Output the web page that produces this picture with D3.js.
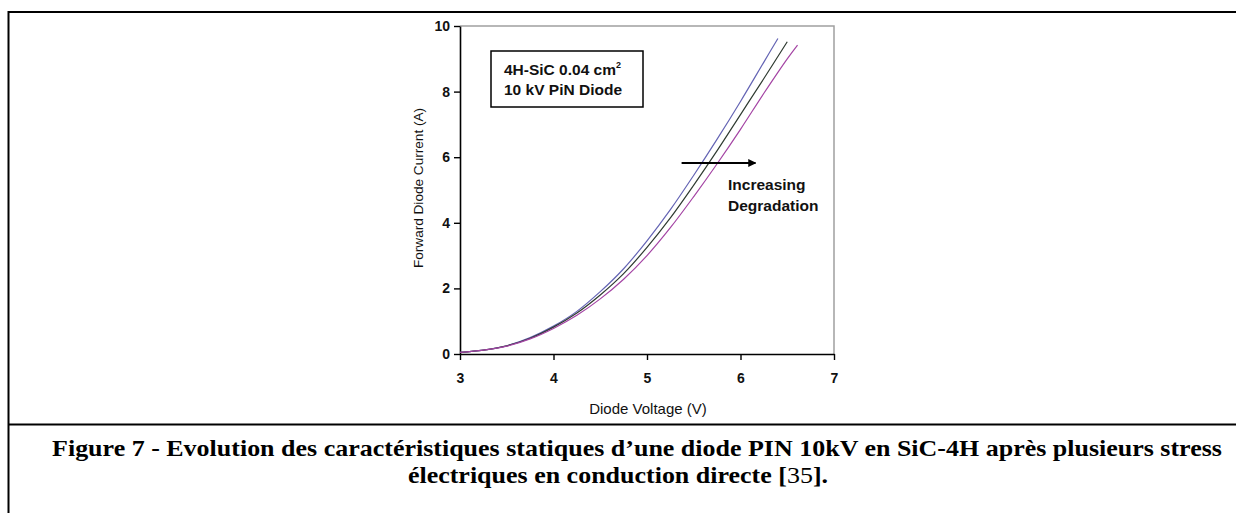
<!DOCTYPE html>
<html>
<head>
<meta charset="utf-8">
<script src="https://cdn.jsdelivr.net/npm/d3@7"></script>
<style>
  body { margin: 0; background: #fff; }
  svg { display: block; }
</style>
</head>
<body>
<svg id="chart" width="1236" height="513"></svg>
<script>
// voltage samples (V) and currents (A)
var voltBlue = [3.0, 3.25, 3.5, 3.75, 4.0, 4.25, 4.5, 4.75, 5.0, 5.25, 5.5, 5.75, 6.0, 6.25, 6.4];
var currBlue = [0.05, 0.12, 0.25, 0.5, 0.85, 1.3, 1.9, 2.6, 3.45, 4.4, 5.45, 6.55, 7.7, 8.9, 9.62];

var voltBlack = [3.0, 3.25, 3.5, 3.75, 4.0, 4.25, 4.5, 4.75, 5.0, 5.25, 5.5, 5.75, 6.0, 6.25, 6.5];
var currBlack = [0.05, 0.12, 0.25, 0.48, 0.82, 1.25, 1.8, 2.45, 3.25, 4.15, 5.15, 6.2, 7.3, 8.4, 9.52];

var voltPurple = [3.0, 3.25, 3.5, 3.75, 4.0, 4.25, 4.5, 4.75, 5.0, 5.25, 5.5, 5.75, 6.0, 6.25, 6.5, 6.61];
var currPurple = [0.05, 0.12, 0.24, 0.46, 0.78, 1.18, 1.68, 2.28, 3.0, 3.85, 4.8, 5.8, 6.85, 7.95, 9.0, 9.42];

var xTicks = [3, 4, 5, 6, 7];
var yTicks = [0, 2, 4, 6, 8, 10];

var curves = [
  { v: voltBlue, i: currBlue, color: '#6464b4' },
  { v: voltBlack, i: currBlack, color: '#2e3a30' },
  { v: voltPurple, i: currPurple, color: '#a444a4' }
];

var svg = d3.select('#chart');
var sans = 'Liberation Sans, Arial, sans-serif';

// page frame (part of the document table)
svg.append('line').attr('x1', 8.5).attr('x2', 1236).attr('y1', 12).attr('y2', 12)
  .style('stroke', '#000').style('stroke-width', 2);
svg.append('line').attr('x1', 8.5).attr('x2', 8.5).attr('y1', 11).attr('y2', 513)
  .style('stroke', '#000').style('stroke-width', 2);
svg.append('line').attr('x1', 8.5).attr('x2', 1236).attr('y1', 424.5).attr('y2', 424.5)
  .style('stroke', '#000').style('stroke-width', 2);

var margin = { top: 26, left: 460 };
var width = 374;
var height = 328;

var g = svg.append('g')
  .attr('transform', `translate(${margin.left}, ${margin.top})`);

var xScale = d3.scaleLinear().domain([3, 7]).range([0, width]);
var yScale = d3.scaleLinear().domain([0, 10]).range([height, 0]);

// grey top/right frame
g.append('path')
  .attr('d', `M0,0H${width}V${height}`)
  .style('fill', 'none')
  .style('stroke', '#a0a0a0')
  .style('stroke-width', 1.5);

var xAxis = d3.axisBottom(xScale).tickValues(xTicks).tickFormat(d3.format('d'))
  .tickSizeInner(6).tickSizeOuter(0).tickPadding(13);
var yAxis = d3.axisLeft(yScale).tickValues(yTicks).tickFormat(d3.format('d'))
  .tickSizeInner(6).tickSizeOuter(0).tickPadding(4);

g.append('g')
  .attr('transform', `translate(0, ${height})`)
  .call(xAxis);
g.append('g').call(yAxis);

g.selectAll('.domain').style('stroke', '#000').style('stroke-width', 1.6);
g.selectAll('.tick line').style('stroke', '#000').style('stroke-width', 1.4);
g.selectAll('.tick text')
  .style('font-family', sans)
  .style('font-weight', 'bold')
  .style('font-size', '14px')
  .style('fill', '#111');

var line = d3.line()
  .x(function (d) { return xScale(d[0]); })
  .y(function (d) { return yScale(d[1]); })
  .curve(d3.curveCatmullRom);

curves.forEach(function (c) {
  g.append('path')
    .datum(d3.zip(c.v, c.i))
    .attr('d', line)
    .style('fill', 'none')
    .style('stroke', c.color)
    .style('stroke-width', 1.2);
});

// axis titles
g.append('text')
  .attr('x', width / 2 + 1)
  .attr('y', height + 60)
  .attr('text-anchor', 'middle')
  .style('font-family', sans)
  .style('font-size', '15px')
  .style('fill', '#111')
  .text('Diode Voltage (V)');

g.append('text')
  .attr('transform', `translate(-37, ${height / 2 - 2}) rotate(-90)`)
  .attr('text-anchor', 'middle')
  .style('font-family', sans)
  .style('font-size', '13.6px')
  .style('fill', '#111')
  .text('Forward Diode Current (A)');

// label box
g.append('rect')
  .attr('x', 31).attr('y', 25).attr('width', 152).attr('height', 56)
  .style('fill', '#fff')
  .style('stroke', '#000')
  .style('stroke-width', 1.5);

var boxText = g.append('text')
  .style('font-family', sans)
  .style('font-weight', 'bold')
  .style('font-size', '15.5px')
  .style('fill', '#111');
var l1 = boxText.append('tspan').attr('x', 44).attr('y', 49).text('4H-SiC 0.04 cm');
l1.append('tspan').attr('dy', -7).style('font-size', '9px').text('2');
boxText.append('tspan').attr('x', 44).attr('y', 69).text('10 kV PiN Diode');

// degradation arrow
svg.append('defs').append('marker')
  .attr('id', 'head')
  .attr('viewBox', '0 0 10 10')
  .attr('refX', 9).attr('refY', 5)
  .attr('markerWidth', 4).attr('markerHeight', 4)
  .attr('orient', 'auto')
  .append('path').attr('d', 'M0,0L10,5L0,10Z').style('fill', '#000');

g.append('line')
  .attr('x1', xScale(5.37)).attr('x2', xScale(6.16))
  .attr('y1', 137).attr('y2', 137)
  .style('stroke', '#000')
  .style('stroke-width', 2)
  .attr('marker-end', 'url(#head)');

g.append('text')
  .attr('x', 268).attr('y', 164)
  .style('font-family', sans)
  .style('font-weight', 'bold')
  .style('font-size', '15.5px')
  .style('fill', '#111')
  .text('Increasing');
g.append('text')
  .attr('x', 268).attr('y', 185)
  .style('font-family', sans)
  .style('font-weight', 'bold')
  .style('font-size', '15.5px')
  .style('fill', '#111')
  .text('Degradation');

// caption (slightly widened glyphs, as in the scanned figure)
var sx = 1.13;
var cap = svg.append('text')
  .attr('transform', `scale(${sx}, 1)`)
  .attr('text-anchor', 'middle')
  .style('font-family', 'Liberation Serif, Times New Roman, serif')
  .style('font-weight', 'bold')
  .style('font-size', '23px')
  .style('fill', '#000');
cap.append('tspan').attr('x', 637 / sx).attr('y', 456)
  .text('Figure 7 - Evolution des caractéristiques statiques d’une diode PIN 10kV en SiC-4H après plusieurs stress');
var c2 = cap.append('tspan').attr('x', 618 / sx).attr('y', 483);
c2.append('tspan').text('électriques en conduction directe [');
c2.append('tspan').style('font-weight', 'normal').text('35');
c2.append('tspan').text('].');
</script>
</body>
</html>
